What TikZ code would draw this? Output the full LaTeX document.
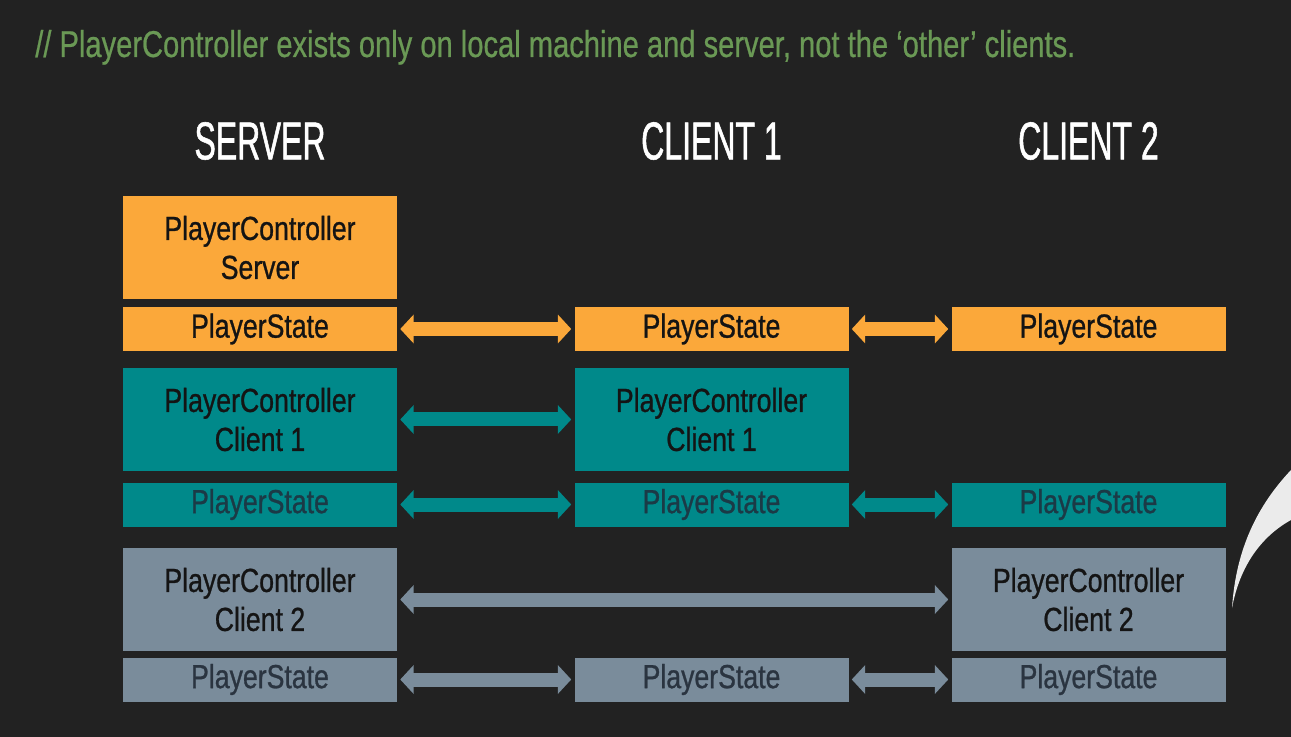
\documentclass[tikz,border=0pt]{standalone}
\usepackage{fontspec}
\usetikzlibrary{arrows.meta}
\newfontfamily\boxfont{Liberation Sans}[FakeStretch=0.8,FakeBold=0.8]
\newfontfamily\titlefont{Liberation Sans}[FakeStretch=0.78,FakeBold=0.6]
\newfontfamily\headfont{Liberation Sans}[FakeStretch=0.6,FakeBold=1]
\definecolor{bg}{HTML}{222222}
\definecolor{orng}{HTML}{FBA83A}
\definecolor{teal1}{HTML}{00898A}
\definecolor{gray1}{HTML}{7A8C9B}
\definecolor{titlegreen}{HTML}{6A9955}
\definecolor{swoosh}{HTML}{EBEBEB}
\definecolor{tdark}{HTML}{141414}
\definecolor{tteal}{HTML}{1B3A46}
\definecolor{tgray}{HTML}{2A3440}
\tikzset{
  box/.style={inner sep=0pt, minimum width=205.5pt, align=center,
    font=\boxfont\fontsize{25pt}{29.25pt}\selectfont},
  pcbox/.style={box, minimum height=77.25pt},
  psbox/.style={box, minimum height=33pt},
  orangebox/.style={fill=orng, text=tdark},
  tealpc/.style={fill=teal1, text=tdark},
  tealps/.style={fill=teal1, text=tteal},
  graypc/.style={fill=gray1, text=tdark},
  grayps/.style={fill=gray1, text=tgray},
  head/.style={text=white, font=\headfont\fontsize{40pt}{44pt}\selectfont},
  dbl/.style={line width=10.5pt, {Triangle[length=10pt,width=21pt]}-{Triangle[length=10pt,width=21pt]}, shorten <=2.25pt, shorten >=2.25pt},
}
\begin{document}
\begin{tikzpicture}[x=0.75pt,y=-0.75pt]
\path[use as bounding box, fill=bg] (0,0) rectangle (1291,737);
% title
\node[anchor=base west, inner sep=0pt, text=titlegreen, font=\titlefont\fontsize{28pt}{32pt}\selectfont] (title) at (35,57) {// PlayerController exists only on local machine and server, not the ‘other’ clients.};
% headings
\node[head] (hS) at (260,141) {SERVER};
\node[head] (hC1) at (711.5,141) {CLIENT 1};
\node[head] (hC2) at (1088.5,141) {CLIENT 2};
% server column
\node[pcbox, orangebox] (pcS) at (260,247.5) {PlayerController\\Server};
\node[psbox, orangebox] (psA1) at (260,329) {PlayerState};
\node[pcbox, tealpc] (pcC1s) at (260,419.5) {PlayerController\\Client 1};
\node[psbox, tealps] (psB1) at (260,504.5) {PlayerState};
\node[pcbox, graypc] (pcC2s) at (260,599.5) {PlayerController\\Client 2};
\node[psbox, grayps] (psC1) at (260,679.5) {PlayerState};
% client 1 column
\node[psbox, orangebox] (psA2) at (711.5,329) {PlayerState};
\node[pcbox, tealpc] (pcC1c) at (711.5,419.5) {PlayerController\\Client 1};
\node[psbox, tealps] (psB2) at (711.5,504.5) {PlayerState};
\node[psbox, grayps] (psC2) at (711.5,679.5) {PlayerState};
% client 2 column
\node[psbox, orangebox] (psA3) at (1088.5,329) {PlayerState};
\node[psbox, tealps] (psB3) at (1088.5,504.5) {PlayerState};
\node[pcbox, graypc] (pcC2c) at (1088.5,599.5) {PlayerController\\Client 2};
\node[psbox, grayps] (psC3) at (1088.5,679.5) {PlayerState};
% arrows
\draw[dbl, orng] (psA1.east) -- (psA2.west);
\draw[dbl, orng] (psA2.east) -- (psA3.west);
\draw[dbl, teal1] (pcC1s.east) -- (pcC1c.west);
\draw[dbl, teal1] (psB1.east) -- (psB2.west);
\draw[dbl, teal1] (psB2.east) -- (psB3.west);
\draw[dbl, gray1] (pcC2s.east) -- (pcC2c.west);
\draw[dbl, gray1] (psC1.east) -- (psC2.west);
\draw[dbl, gray1] (psC2.east) -- (psC3.west);
% swoosh
\fill[swoosh] (1232,608) .. controls (1236,548) and (1258,505) .. (1291,470) -- (1291,520) .. controls (1262,536) and (1240,565) .. cycle;
\end{tikzpicture}
\end{document}
